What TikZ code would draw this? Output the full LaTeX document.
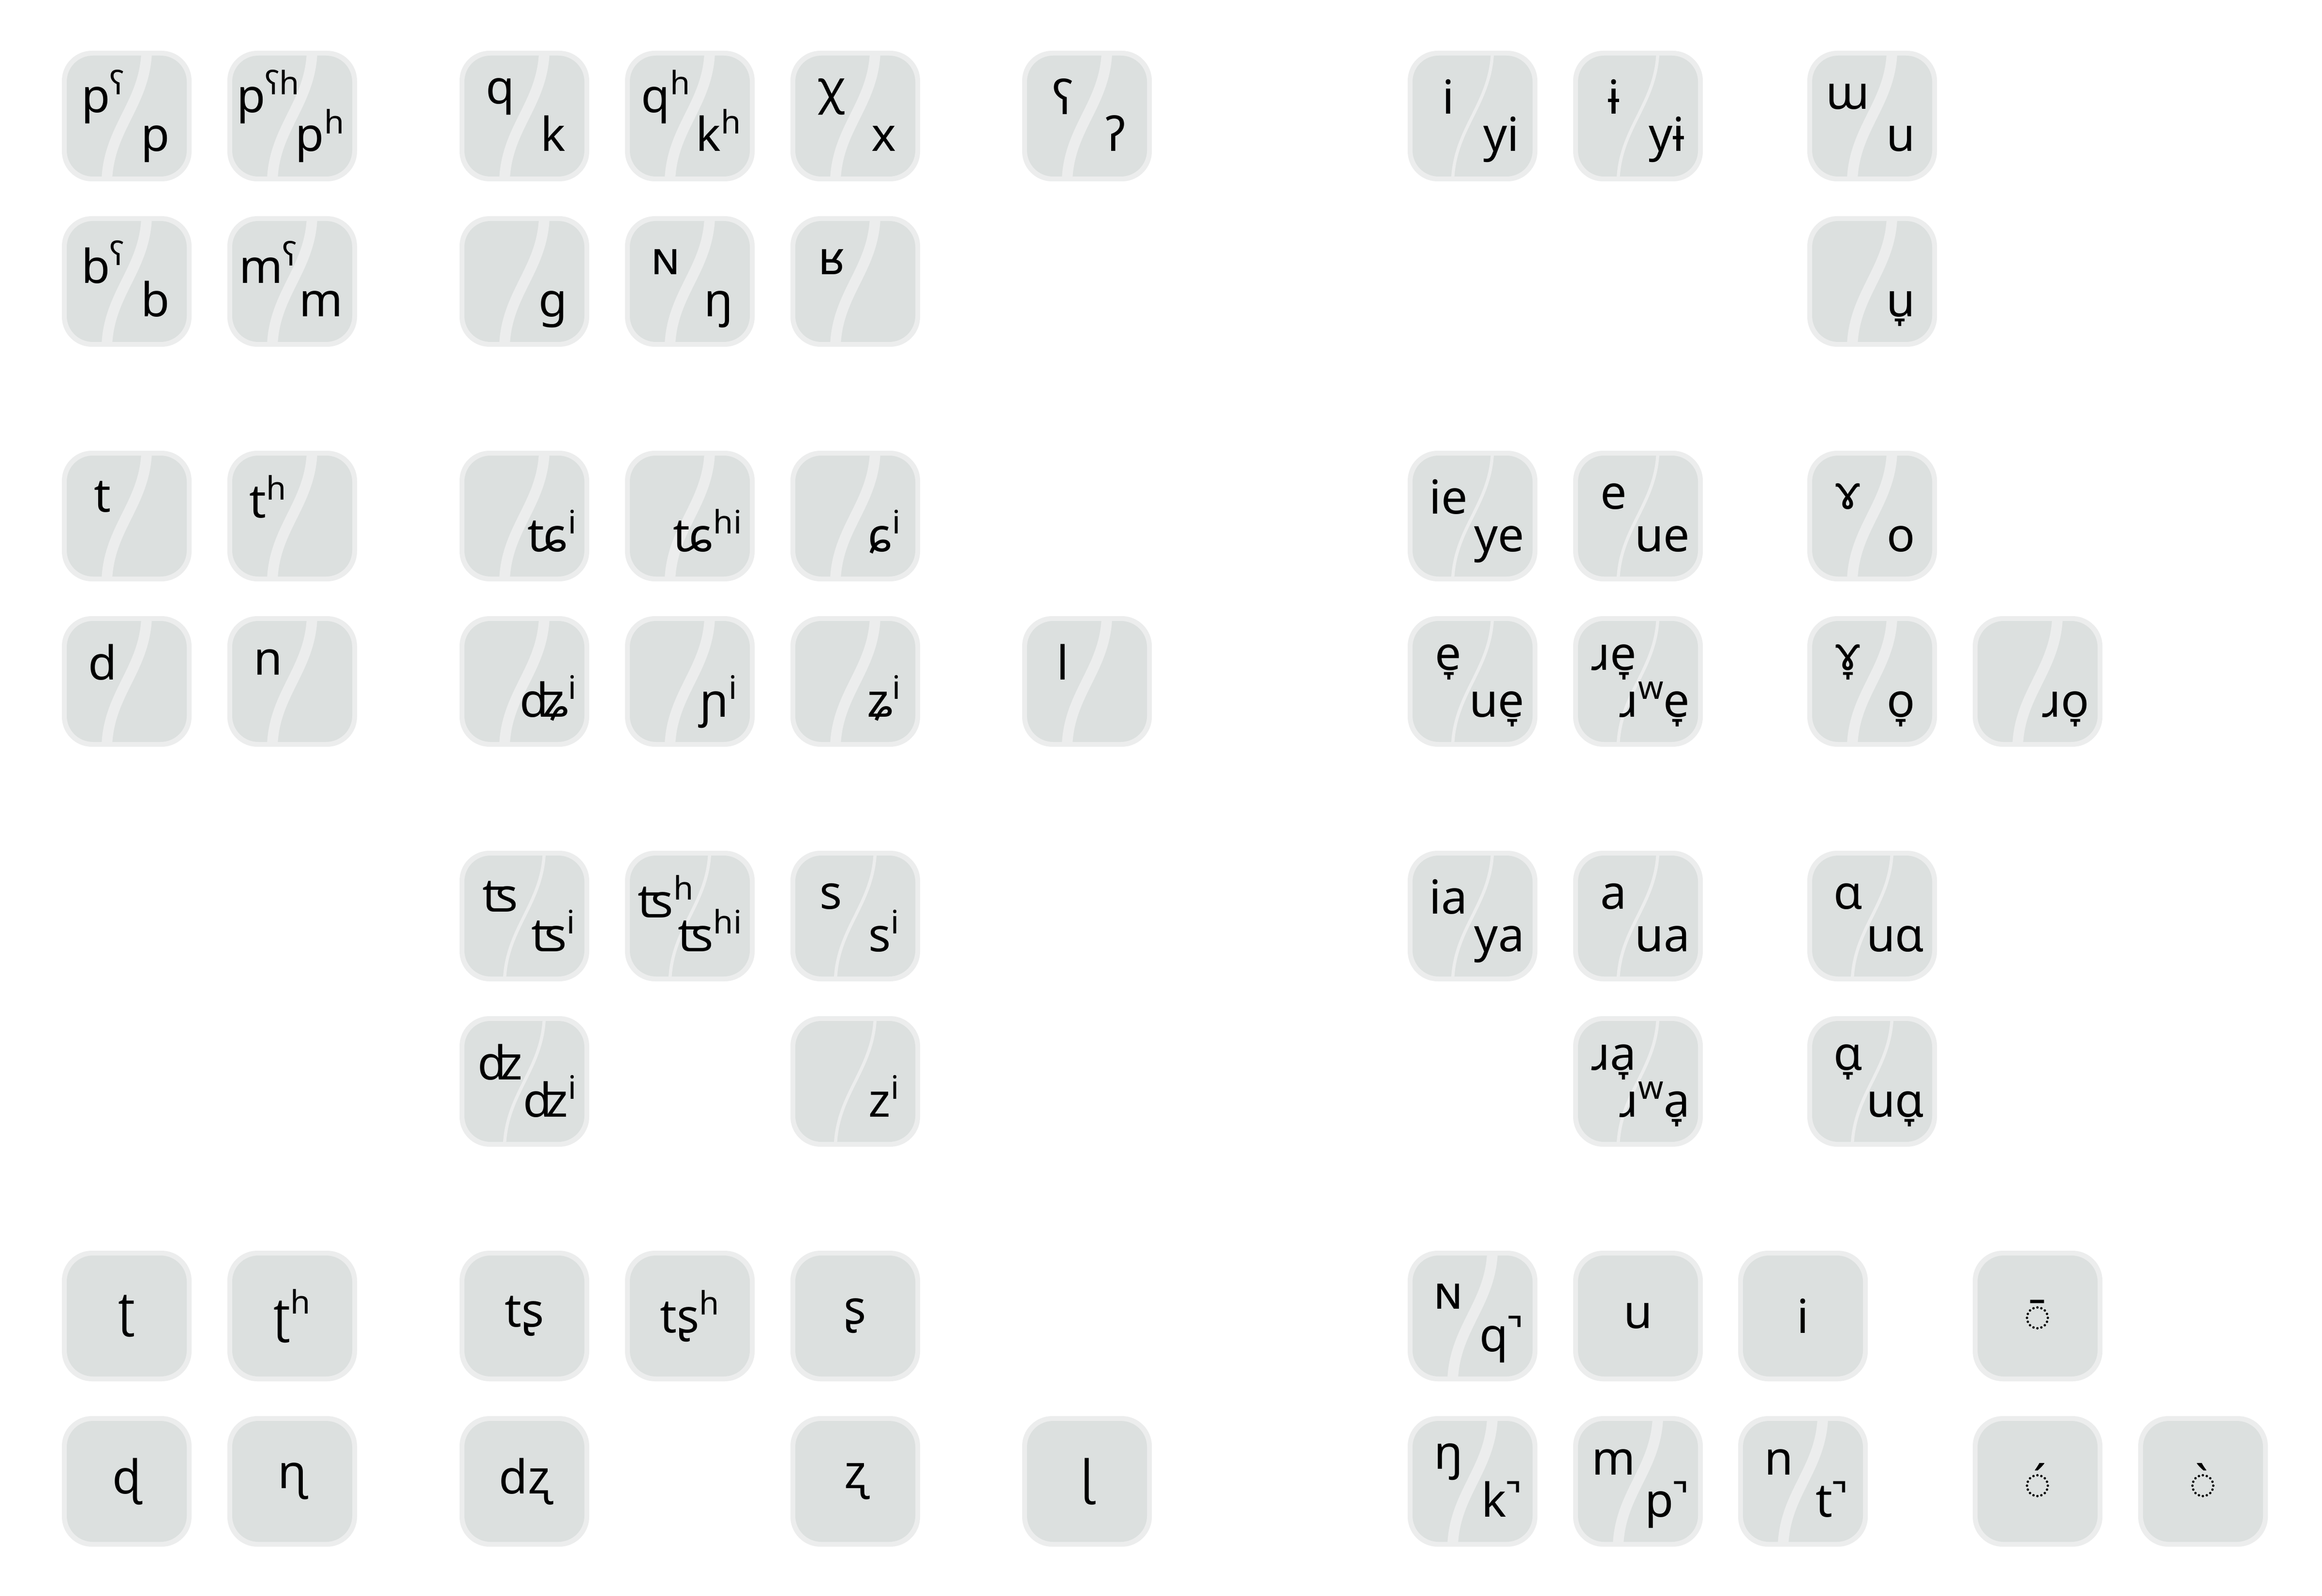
\documentclass[tikz,border=0pt]{standalone}
\usepackage{fontspec}
\setmainfont{Noto Sans}
\newfontfamily\keyfont{Noto Sans}
\definecolor{keyout}{RGB}{236,237,237}
\definecolor{keyin}{RGB}{220,224,223}
\newcommand\su[1]{\raisebox{10.5pt}{\fontsize{19pt}{19pt}\selectfont #1}}
\tikzset{
  keyouter/.style={fill=keyout, draw=none, rounded corners=0.62cm, minimum width=2.68cm, minimum height=2.70cm, inner sep=0pt, outer sep=0pt},
  keyinner/.style={fill=keyin, draw=none, rounded corners=0.54cm, minimum width=2.48cm, minimum height=2.50cm, inner sep=0pt, outer sep=0pt},
  divthick/.style={draw=keyout, line width=0.22cm},
  divthin/.style={draw=keyout, line width=0.065cm},
  lab/.style={font={\keyfont\fontsize{27.5pt}{33pt}\selectfont}, inner sep=0pt, text=black},
  tllab/.style={lab, anchor=center},
  brlab/.style={lab, anchor=base east},
  clab/.style={lab, anchor=center},
}
\newcommand\splitkey[6]{%
  \begin{scope}[shift={(#2/100,-#3/100)}]
    \node[keyouter] (#1) at (1.34,-1.35) {};
    \node[keyinner] (#1-in) at (1.34,-1.35) {};
    \draw[#4] (1.75,-0.05) .. controls (1.70,-1.10) and (0.98,-1.60) .. (0.93,-2.65);
    \if\relax\detokenize{#5}\relax\else
      \node[tllab] (#1-tl) at (0.84,-0.95) {#5};\fi
    \if\relax\detokenize{#6}\relax\else
      \node[brlab] (#1-br) at (2.42,-2.08) {\hbox to 0.96cm{\hss #6\hfil}};\fi
  \end{scope}}
\newcommand\plainkey[4]{%
  \begin{scope}[shift={(#2/100,-#3/100)}]
    \node[keyouter] (#1) at (1.34,-1.35) {};
    \node[keyinner] (#1-in) at (1.34,-1.35) {};
    \node[clab] (#1-c) at (1.34,-1.35) {#4};
  \end{scope}}
\begin{document}
\begin{tikzpicture}
\fill[white] (0,0) rectangle (48,-33);
\useasboundingbox (0,0) rectangle (48,-33);
% row 1
\splitkey{kA1}{128}{105}{divthick}{p\su{ʕ}}{p}
\splitkey{kB1}{470}{105}{divthick}{p\su{ʕh}}{p\su{h}}
\splitkey{kC1}{950}{105}{divthick}{q}{k}
\splitkey{kD1}{1292}{105}{divthick}{q\su{h}}{k\su{h}}
\splitkey{kE1}{1634}{105}{divthick}{χ}{x}
\splitkey{kF1}{2113}{105}{divthick}{ʕ}{ʔ}
\splitkey{kG1}{2910}{105}{divthin}{i}{yi}
\splitkey{kH1}{3252}{105}{divthin}{ɨ}{yɨ}
\splitkey{kJ1}{3736}{105}{divthick}{ɯ}{u}
% row 2
\splitkey{kA2}{128}{447}{divthick}{b\su{ʕ}}{b}
\splitkey{kB2}{470}{447}{divthick}{m\su{ʕ}}{m}
\splitkey{kC2}{950}{447}{divthick}{}{g}
\splitkey{kD2}{1292}{447}{divthick}{ɴ}{ŋ}
\splitkey{kE2}{1634}{447}{divthick}{ʁ}{}
\splitkey{kJ2}{3736}{447}{divthick}{}{u̞}
% row 3
\splitkey{kA3}{128}{932}{divthick}{t}{}
\splitkey{kB3}{470}{932}{divthick}{t\su{h}}{}
\splitkey{kC3}{950}{932}{divthick}{}{ʨ\su{i}}
\splitkey{kD3}{1292}{932}{divthick}{}{ʨ\su{hi}}
\splitkey{kE3}{1634}{932}{divthick}{}{ɕ\su{i}}
\splitkey{kG3}{2910}{932}{divthin}{ie}{ye}
\splitkey{kH3}{3252}{932}{divthin}{e}{ue}
\splitkey{kJ3}{3736}{932}{divthick}{ɤ}{o}
% row 4
\splitkey{kA4}{128}{1274}{divthick}{d}{}
\splitkey{kB4}{470}{1274}{divthick}{n}{}
\splitkey{kC4}{950}{1274}{divthick}{}{ʥ\su{i}}
\splitkey{kD4}{1292}{1274}{divthick}{}{ɲ\su{i}}
\splitkey{kE4}{1634}{1274}{divthick}{}{ʑ\su{i}}
\splitkey{kF4}{2113}{1274}{divthick}{l}{}
\splitkey{kG4}{2910}{1274}{divthin}{e̞}{ue̞}
\splitkey{kH4}{3252}{1274}{divthin}{ɹe̞}{ɹ\su{w}e̞}
\splitkey{kJ4}{3736}{1274}{divthick}{ɤ̞}{o̞}
\splitkey{kK4}{4078}{1274}{divthick}{}{ɹo̞}
% row 5
\splitkey{kC5}{950}{1759}{divthin}{ʦ}{ʦ\su{i}}
\splitkey{kD5}{1292}{1759}{divthin}{ʦ\su{h}}{ʦ\su{hi}}
\splitkey{kE5}{1634}{1759}{divthin}{s}{s\su{i}}
\splitkey{kG5}{2910}{1759}{divthin}{ia}{ya}
\splitkey{kH5}{3252}{1759}{divthin}{a}{ua}
\splitkey{kJ5}{3736}{1759}{divthin}{ɑ}{uɑ}
% row 6
\splitkey{kC6}{950}{2101}{divthin}{ʣ}{ʣ\su{i}}
\splitkey{kE6}{1634}{2101}{divthin}{}{z\su{i}}
\splitkey{kH6}{3252}{2101}{divthin}{ɹa̞}{ɹ\su{w}a̞}
\splitkey{kJ6}{3736}{2101}{divthin}{ɑ̞}{uɑ̞}
% row 7
\plainkey{kA7}{128}{2586}{ʈ}
\plainkey{kB7}{470}{2586}{ʈ\su{h}}
\plainkey{kC7}{950}{2586}{tʂ}
\plainkey{kD7}{1292}{2586}{tʂ\su{h}}
\plainkey{kE7}{1634}{2586}{ʂ}
\splitkey{kG7}{2910}{2586}{divthick}{ɴ}{q̚}
\plainkey{kH7}{3252}{2586}{u}
\plainkey{kI7}{3593}{2586}{i}
\plainkey{kK7}{4078}{2586}{◌̄}
% row 8
\plainkey{kA8}{128}{2928}{ɖ}
\plainkey{kB8}{470}{2928}{ɳ}
\plainkey{kC8}{950}{2928}{dʐ}
\plainkey{kE8}{1634}{2928}{ʐ}
\plainkey{kF8}{2113}{2928}{ɭ}
\splitkey{kG8}{2910}{2928}{divthick}{ŋ}{k̚}
\splitkey{kH8}{3252}{2928}{divthick}{m}{p̚}
\splitkey{kI8}{3593}{2928}{divthick}{n}{t̚}
\plainkey{kK8}{4078}{2928}{◌́}
\plainkey{kL8}{4420}{2928}{◌̀}
\end{tikzpicture}
\end{document}
